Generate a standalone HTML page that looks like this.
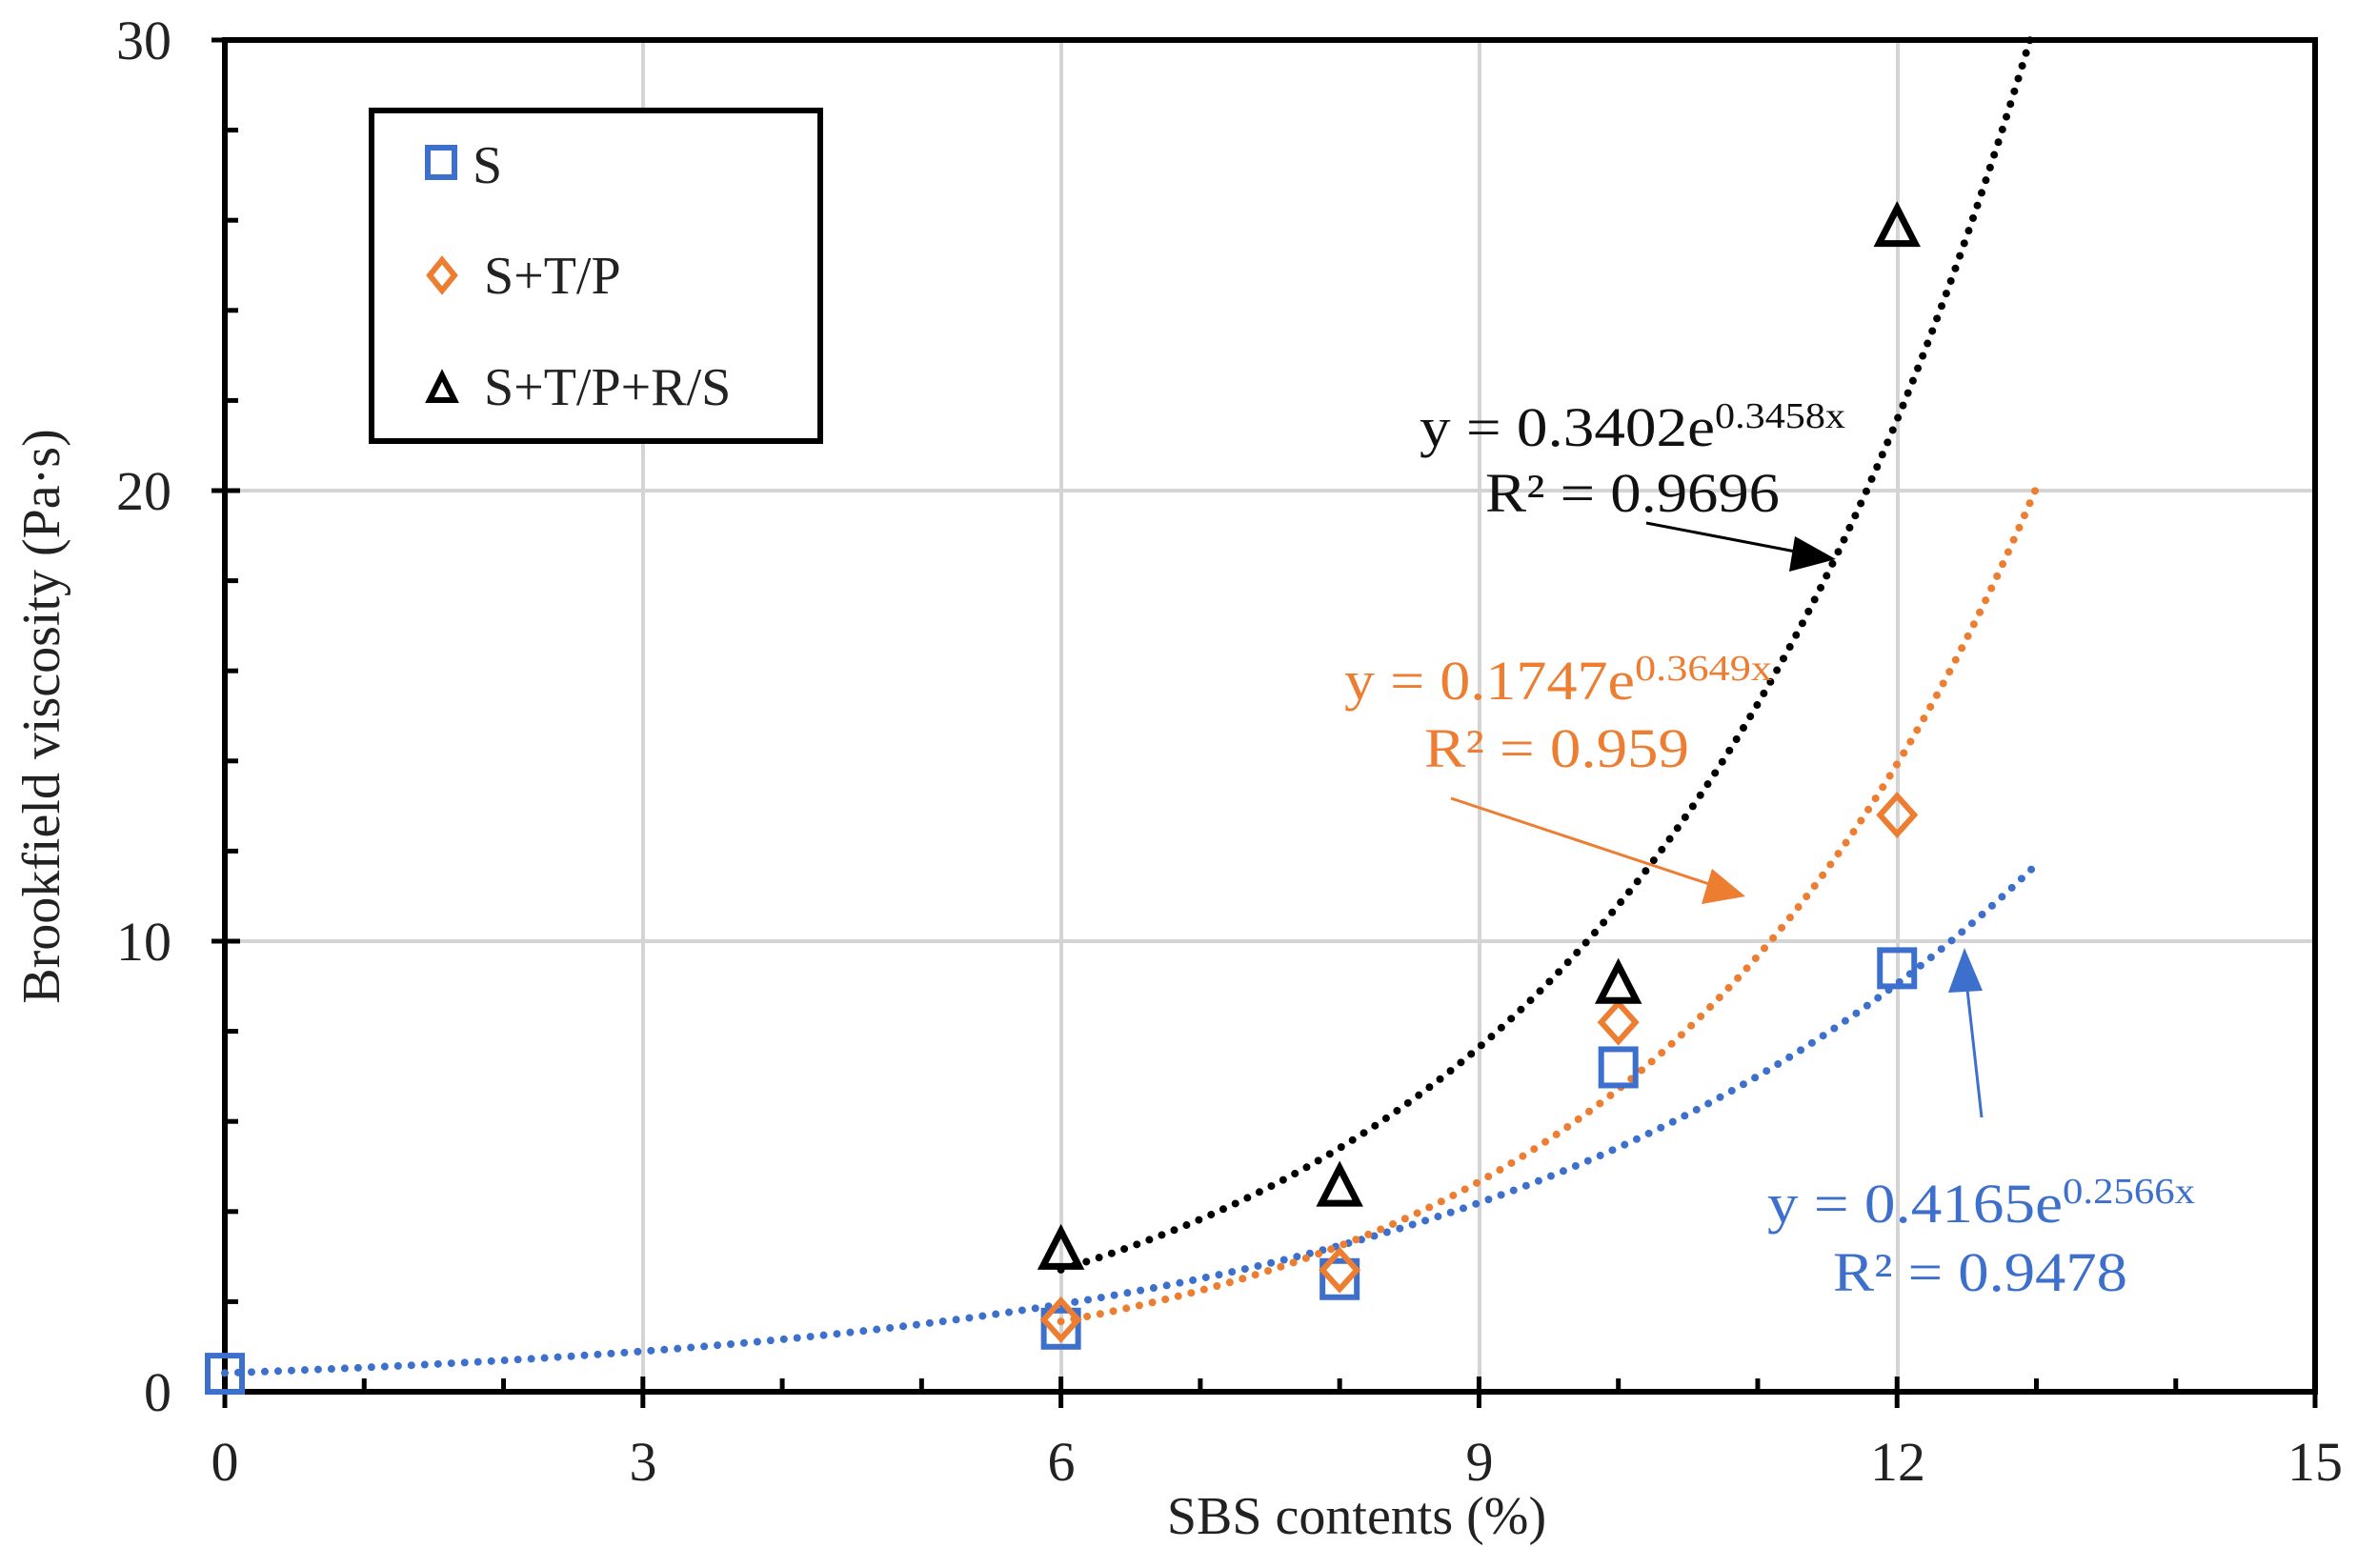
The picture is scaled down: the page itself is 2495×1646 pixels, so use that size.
<!DOCTYPE html>
<html><head><meta charset="utf-8"><style>
html,body{margin:0;padding:0;background:#fff;}
svg{display:block;}
text{font-family:"Liberation Serif",serif;}
</style></head><body>
<svg id="s" width="2495" height="1646" viewBox="0 0 2495 1646" xmlns="http://www.w3.org/2000/svg">
<rect width="2495" height="1646" fill="#fff"/>
<g stroke="#d4d4d4" stroke-width="4">
<line x1="675" y1="42" x2="675" y2="1461"/><line x1="1114" y1="42" x2="1114" y2="1461"/>
<line x1="1553" y1="42" x2="1553" y2="1461"/><line x1="1992" y1="42" x2="1992" y2="1461"/>
<line x1="236" y1="988" x2="2430" y2="988"/><line x1="236" y1="515" x2="2430" y2="515"/>
</g>
<g id="ticks" stroke="#000" stroke-width="5"></g>
<rect x="236" y="42" width="2194" height="1419" fill="none" stroke="#000" stroke-width="6"/>
<g font-size="58" fill="#222" text-anchor="end">
<text x="180" y="62">30</text><text x="180" y="535">20</text><text x="180" y="1008">10</text><text x="180" y="1481">0</text>
</g>
<g font-size="58" fill="#222" text-anchor="middle">
<text x="236" y="1554">0</text><text x="675" y="1554">3</text><text x="1114" y="1554">6</text><text x="1553" y="1554">9</text><text x="1992" y="1554">12</text><text x="2430" y="1554">15</text>
</g>
<text x="1424" y="1610" font-size="56" text-anchor="middle" fill="#222">SBS contents (%)</text>
<text transform="translate(62,752) rotate(-90)" font-size="56" text-anchor="middle" fill="#222">Brookfield viscosity (Pa·s)</text>
<g id="curves" fill="none" stroke-width="8" stroke-linecap="round" stroke-dasharray="0 14"></g>
<g id="marks" fill="none" stroke-width="6"></g>
<rect x="390" y="116" width="471" height="347" fill="#fff" stroke="#000" stroke-width="6"/>
<rect x="449" y="155" width="28" height="31" fill="none" stroke="#3d6fcc" stroke-width="6"/>
<text x="496" y="192" font-size="56" fill="#222">S</text>
<polygon points="464,273 477,289 464,305 451,289" fill="none" stroke="#ed7d31" stroke-width="6"/>
<text x="508" y="308" font-size="56" fill="#222">S+T/P</text>
<polygon points="464,394 477,420 451,420" fill="none" stroke="#000" stroke-width="6"/>
<text x="508" y="425" font-size="56" fill="#222">S+T/P+R/S</text>
<text x="1490" y="468" font-size="58" fill="#111" textLength="310" lengthAdjust="spacingAndGlyphs">y = 0.3402e</text>
<text x="1800" y="449" font-size="38" fill="#111" textLength="137" lengthAdjust="spacingAndGlyphs">0.3458x</text>
<text x="1559" y="537" font-size="58" fill="#111" textLength="309" lengthAdjust="spacingAndGlyphs">R² = 0.9696</text>
<line x1="1728" y1="549" x2="1895" y2="581" stroke="#000" stroke-width="3"/>
<polygon points="1927,587 1878,600 1884,563" fill="#000"/>
<text x="1411" y="734" font-size="58" fill="#ed7d31" textLength="305" lengthAdjust="spacingAndGlyphs">y = 0.1747e</text>
<text x="1716" y="714" font-size="38" fill="#ed7d31" textLength="144" lengthAdjust="spacingAndGlyphs">0.3649x</text>
<text x="1495" y="805" font-size="58" fill="#ed7d31" textLength="278" lengthAdjust="spacingAndGlyphs">R² = 0.959</text>
<line x1="1523" y1="838" x2="1800" y2="930" stroke="#ed7d31" stroke-width="3"/>
<polygon points="1832,941 1786,949 1797,912" fill="#ed7d31"/>
<text x="1855" y="1283" font-size="58" fill="#3d6fcc" textLength="310" lengthAdjust="spacingAndGlyphs">y = 0.4165e</text>
<text x="2165" y="1263" font-size="38" fill="#3d6fcc" textLength="139" lengthAdjust="spacingAndGlyphs">0.2566x</text>
<text x="1924" y="1355" font-size="58" fill="#3d6fcc" textLength="309" lengthAdjust="spacingAndGlyphs">R² = 0.9478</text>
<line x1="2080" y1="1173" x2="2064" y2="1030" stroke="#3d6fcc" stroke-width="3"/>
<polygon points="2062,995 2081,1040 2045,1042" fill="#3d6fcc"/>
</svg>
<script>
var NS="http://www.w3.org/2000/svg";
function X(x){return 236+146.27*x;}function Y(y){return 1461-47.3*y;}
function el(p,t,a){var e=document.createElementNS(NS,t);for(var k in a)e.setAttribute(k,a[k]);document.getElementById(p).appendChild(e);return e;}
for(var i=1;i<15;i++){var x=X(i);if(i%3==0)el("ticks","line",{x1:x,y1:1445,x2:x,y2:1478});else el("ticks","line",{x1:x,y1:1447,x2:x,y2:1461});}
el("ticks","line",{x1:236,y1:1461,x2:236,y2:1478});el("ticks","line",{x1:2430,y1:1461,x2:2430,y2:1478});
for(var j=2;j<30;j+=2){var y=Y(j);if(j%10==0)el("ticks","line",{x1:222,y1:y,x2:252,y2:y});else el("ticks","line",{x1:236,y1:y,x2:250,y2:y});}
el("ticks","line",{x1:222,y1:42,x2:236,y2:42});el("ticks","line",{x1:222,y1:1461,x2:236,y2:1461});
function curve(a,b,x0,x1,c){var d="";for(var x=x0;x<=x1+1e-9;x+=0.02){var y=a*Math.exp(b*x);if(y>30.2)break;d+=(d?"L":"M")+X(x).toFixed(1)+","+Y(y).toFixed(1);}el("curves","path",{d:d,stroke:c});}
curve(0.4165,0.2566,0,13,"#3d6fcc");
curve(0.1747,0.3649,6,13,"#ed7d31");
curve(0.3402,0.3458,6,13,"#000");
function sq(x,y){el("marks","rect",{x:X(x)-18,y:Y(y)-19,width:36,height:38,stroke:"#3d6fcc"});}
function di(x,y){var cx=X(x),cy=Y(y);el("marks","polygon",{points:[cx,cy-20,cx+18,cy,cx,cy+20,cx-18,cy].join(","),stroke:"#ed7d31"});}
function tr(x,y){var cx=X(x),cy=Y(y);el("marks","polygon",{points:[cx,cy-22,cx+19,cy+15,cx-19,cy+15].join(","),stroke:"#000","stroke-width":7});}
[[0,0.4],[6,1.4],[8,2.5],[10,7.2],[12,9.4]].forEach(function(p){sq(p[0],p[1]);});
[[6,1.6],[8,2.7],[10,8.2],[12,12.8]].forEach(function(p){di(p[0],p[1]);});
[[6,3.1],[8,4.5],[10,9.0],[12,25.8]].forEach(function(p){tr(p[0],p[1]);});
</script>
</body></html>
